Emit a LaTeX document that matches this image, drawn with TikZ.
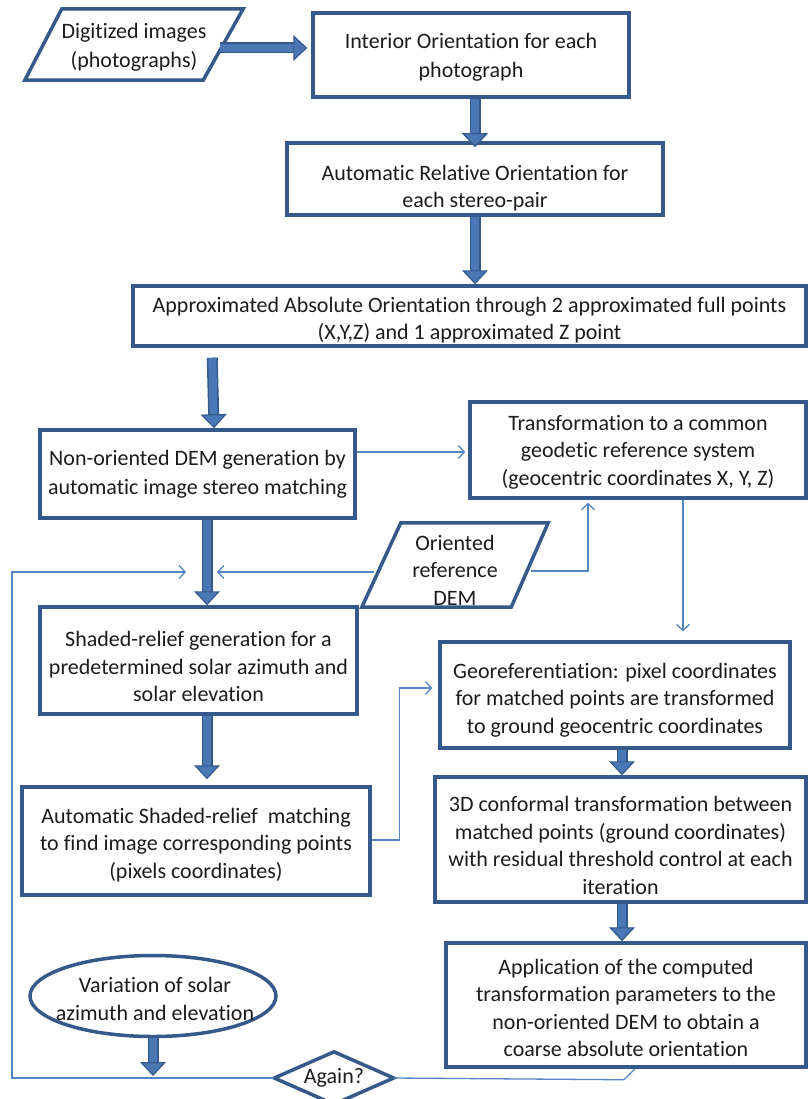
\documentclass[tikz,border=0pt]{standalone}
\usepackage{fontspec}
\setmainfont{Carlito}[Ligatures=NoCommon]
\usetikzlibrary{arrows.meta,shapes.geometric}
\definecolor{boxc}{HTML}{34598A}
\definecolor{arrfill}{HTML}{4A78B5}
\definecolor{linec}{HTML}{5585C5}
\definecolor{txt}{HTML}{1C1C1C}
\begin{document}
\begin{tikzpicture}[x=1pt,y=-1pt,
  box/.style={draw=boxc, line width=3.5pt, inner sep=0pt, rectangle},
  holder/.style={inner sep=0pt, rectangle},
  lbl/.style={align=center, text=txt, font=\fontsize{22}{27.5}\selectfont, inner sep=0pt},
  lblw/.style={align=center, text=txt, font=\fontsize{22}{29}\selectfont, inner sep=0pt},
  shapeline/.style={draw=boxc, line width=3.5pt, line join=miter},
  bigarrow/.style={draw=arrfill, line width=8pt,
    -{Triangle[width=26pt,length=14pt,color=boxc,fill=arrfill,line width=1.2pt]},
    preaction={draw=boxc, line width=11pt, -, shorten >=12pt}},
  thinline/.style={draw=linec, line width=1.3pt},
  thinarrow/.style={thinline, -{Straight Barb[length=6pt,width=13pt]}},
]
\fill[white] (0,0) rectangle (809,1099);
\useasboundingbox (0,0) rectangle (809,1099);

% input parallelogram
\node[holder, minimum width=218pt, minimum height=71pt,
  label={[lblw,yshift=-2.5pt]center:{Digitized images\\(photographs)}}] (digit) at (134,44.5) {};
\draw[shapeline] ([xshift=37pt]digit.north west) -- (digit.north east)
  -- ([xshift=-40pt]digit.south east) -- (digit.south west) -- cycle;

% boxes
\node[box, minimum width=316pt, minimum height=84pt,
  label={[lblw,yshift=-2.5pt]center:{Interior Orientation for each\\photograph}}] (interior) at (471,55) {};
\node[box, minimum width=376pt, minimum height=72pt,
  label={[lbl,yshift=-9pt]center:{Automatic Relative Orientation for\\each stereo-pair}}] (relative) at (475,179) {};
\node[box, minimum width=673pt, minimum height=60pt,
  label={[lbl,yshift=-4pt]center:{Approximated Absolute Orientation through 2 approximated full points\\(X,Y,Z) and 1 approximated Z point}}] (approx) at (469.5,316) {};
\node[box, minimum width=315pt, minimum height=88pt,
  label={[lblw]center:{Non-oriented DEM generation by\\automatic image stereo matching}}] (nonor) at (197.5,474) {};
\node[box, minimum width=336pt, minimum height=96pt,
  label={[lbl,yshift=-2pt]center:{Transformation to a common\\geodetic reference system\\(geocentric coordinates X, Y, Z)}}] (transf) at (638,450) {};
\node[holder, minimum width=186pt, minimum height=84pt,
  label={[lbl,yshift=-5pt]center:{Oriented\\reference\\DEM}}] (dem) at (455,565) {};
\draw[shapeline] ([xshift=39pt]dem.north west) -- (dem.north east)
  -- ([xshift=-37pt]dem.south east) -- (dem.south west) -- cycle;
\node[box, minimum width=317pt, minimum height=107pt,
  label={[lbl,yshift=-6pt]center:{Shaded-relief generation for a\\predetermined solar azimuth and\\solar elevation}}] (shaded) at (198.5,660.5) {};
\node[box, minimum width=348pt, minimum height=108pt,
  label={[lbl,yshift=-4pt]center:{Automatic Shaded-relief\ \ matching\\to find image corresponding points\\(pixels coordinates)}}] (automatch) at (196,841) {};
\node[box, minimum width=350pt, minimum height=106pt,
  label={[lbl,yshift=-5pt]center:{Georeferentiation: pixel coordinates\\for matched points are transformed\\to ground geocentric coordinates}}] (georef) at (615,695) {};
\node[box, minimum width=371pt, minimum height=125pt,
  label={[lbl,yshift=-6pt]center:{3D conformal transformation between\\matched points (ground coordinates)\\with residual threshold\ control at each\\iteration}}] (conf3d) at (620.5,839.5) {};
\node[box, minimum width=360pt, minimum height=124pt,
  label={[lbl,yshift=-3pt]center:{Application of the computed\\transformation parameters to the\\non-oriented DEM to obtain a\\coarse absolute orientation}}] (applic) at (626,1005) {};
\node[ellipse, draw=boxc, line width=3.5pt, inner sep=0pt, minimum width=246pt, minimum height=81pt,
  label={[lbl,yshift=-3pt,xshift=2pt]center:{Variation of solar\\azimuth and elevation}}] (ell) at (153,996) {};
\node[holder, minimum width=119pt, minimum height=52pt,
  label={[lbl]center:{Again?}}] (diam) at (334,1078) {};
\draw[shapeline] (diam.west) -- (diam.north) -- (diam.east) -- (diam.south) -- cycle;

% helper coordinates
\coordinate (mergeL) at (186,572);
\coordinate (mergeR) at (217,572);
\coordinate (demL) at (374,572);
\coordinate (demR) at (531,571);
\coordinate (loopc) at (12,1078);
\coordinate (tg) at ([xshift=45pt]transf.south);

% block arrows
\draw[bigarrow] ([xshift=-23pt,yshift=-3.5pt]digit.east) -- ([yshift=7pt,xshift=-4pt]interior.west);
\draw[bigarrow] ([xshift=4pt]interior.south) -- ([yshift=-6pt]relative.north);
\draw[bigarrow] (relative.south) -- (relative.south |- approx.north);
\draw[bigarrow] ([xshift=81pt,yshift=-10pt]approx.south west) -- ([xshift=16.5pt]nonor.north);
\draw[bigarrow] ([xshift=9.5pt]nonor.south) -- ([xshift=8.5pt]shaded.north);
\draw[bigarrow] ([xshift=8.5pt]shaded.south) -- ([xshift=11pt,yshift=6pt]automatch.north);
\draw[bigarrow] ([xshift=7pt]georef.south) -- ([xshift=1.5pt]conf3d.north);
\draw[bigarrow] ([xshift=1.5pt]conf3d.south) -- ([xshift=-4pt]applic.north);
\draw[bigarrow] (ell.south) -- ([yshift=2pt]ell.south |- loopc);

% thin connectors
\draw[thinarrow] ([yshift=22pt]nonor.east) -- ([yshift=-2pt,xshift=-3pt]transf.west);
\draw[thinarrow, shorten >=9pt] (tg) -- (tg |- georef.north);
\draw[thinarrow] (demR) -| ([xshift=-50pt,yshift=-3pt]transf.south);
\draw[thinarrow] (demL) -- (mergeR);
\draw[thinarrow] (diam.west) -- (loopc) |- (mergeL);
\draw[thinarrow] ([yshift=1pt]automatch.east) -- ++(28,0) |- ([yshift=7pt,xshift=-6pt]georef.west);
\draw[thinline] ([xshift=9pt]applic.south) -- ++(-11,11) -- (diam.east);
\end{tikzpicture}
\end{document}
